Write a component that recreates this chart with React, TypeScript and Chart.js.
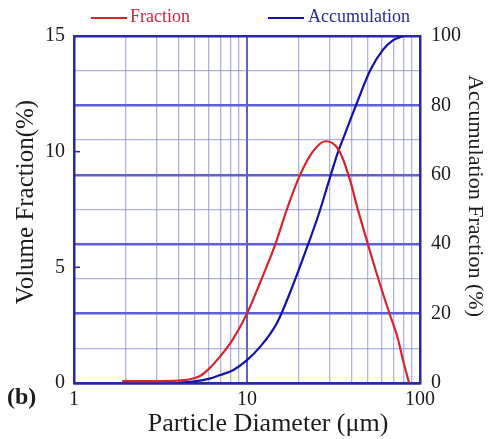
import { useEffect, useRef } from "react";
import { Chart, registerables } from "chart.js";

Chart.register(...registerables);

// Particle size distribution: volume fraction per size and cumulative fraction
const fractionDiameter = [1.9, 3.0, 4.0, 4.6, 5.35, 6.0, 7.0, 8.3, 10.0, 12.0, 14.5, 17.0, 20.0, 24.0, 28.5, 33.0, 36.0, 40.0, 43.0, 50.0, 58.0, 67.0, 74.0, 80.0, 86.5];
const fractionPercent = [0.08, 0.08, 0.1, 0.15, 0.3, 0.6, 1.15, 1.9, 3.0, 4.4, 5.95, 7.5, 8.9, 10.0, 10.45, 10.2, 9.65, 8.6, 7.7, 6.0, 4.4, 2.95, 2.0, 0.95, 0.0];

const accumDiameter = [4.0, 5.0, 6.0, 7.0, 8.3, 10.0, 11.9, 14.9, 18.7, 22.5, 26.0, 29.8, 33.6, 36.0, 40.0, 45.0, 51.4, 61.0, 70.0, 80.0];
const accumPercent = [0, 0.5, 1.2, 2.3, 3.7, 6.6, 10.4, 17.3, 29.0, 39.8, 48.7, 58.3, 66.6, 70.5, 76.5, 83.0, 90.0, 96.0, 98.8, 100];

const diameterTicks = [1, 2, 3, 4, 5, 6, 7, 8, 9, 10, 20, 30, 40, 50, 60, 70, 80, 90, 100];
const diameterLabels = [1, 10, 100];
const fractionTicks = [0, 5, 10, 15];
const accumTicks = [0, 10, 20, 30, 40, 50, 60, 70, 80, 90, 100];
const accumLabels = [0, 20, 40, 60, 80, 100];

const SERIF = "'Liberation Serif', 'Times New Roman', serif";
const RED = "rgb(212, 36, 44)";
const BLUE = "rgb(18, 18, 170)";
const FRAME = "rgb(40, 40, 170)";
const GRID_MAJOR = "rgb(95, 95, 212)";
const GRID_MINOR = "rgba(125, 125, 215, 0.6)";
const TEXT = "#1c1c1c";

const decorations = {
  id: "decorations",
  afterDraw(chart: Chart) {
    const { ctx, chartArea } = chart;
    const yScale = chart.scales.y;
    ctx.save();

    // short inner tick marks on the left axis
    ctx.strokeStyle = FRAME;
    ctx.lineWidth = 1.5;
    for (const v of [5, 10]) {
      const py = yScale.getPixelForValue(v);
      ctx.beginPath();
      ctx.moveTo(chartArea.left, py);
      ctx.lineTo(chartArea.left + 6, py);
      ctx.stroke();
    }

    // legend
    ctx.lineWidth = 2;
    ctx.strokeStyle = RED;
    ctx.beginPath();
    ctx.moveTo(91, 18);
    ctx.lineTo(127, 18);
    ctx.stroke();
    ctx.strokeStyle = BLUE;
    ctx.beginPath();
    ctx.moveTo(268, 18);
    ctx.lineTo(304, 18);
    ctx.stroke();
    ctx.font = `18px ${SERIF}`;
    ctx.textBaseline = "middle";
    ctx.textAlign = "left";
    ctx.fillStyle = "rgb(200, 40, 60)";
    ctx.fillText("Fraction", 130, 17);
    ctx.fillStyle = "rgb(40, 40, 150)";
    ctx.fillText("Accumulation", 308, 17);

    // axis titles
    ctx.fillStyle = TEXT;
    ctx.textAlign = "center";
    ctx.font = `26px ${SERIF}`;
    ctx.fillText("Particle Diameter (\u03bcm)", 268, 424);

    ctx.save();
    ctx.translate(26, 202);
    ctx.rotate(-Math.PI / 2);
    ctx.font = `25px ${SERIF}`;
    ctx.fillText("Volume Fraction(%)", 0, 0);
    ctx.restore();

    ctx.save();
    ctx.translate(475, 196);
    ctx.rotate(Math.PI / 2);
    ctx.font = `22px ${SERIF}`;
    ctx.fillText("Accumulation Fraction (%)", 0, 0);
    ctx.restore();

    // panel label
    ctx.textAlign = "left";
    ctx.font = `bold 24px ${SERIF}`;
    ctx.fillText("(b)", 7, 398);

    ctx.restore();
  },
};

export default function App() {
  const canvasRef = useRef<HTMLCanvasElement | null>(null);

  useEffect(() => {
    const canvas = canvasRef.current;
    if (!canvas) return;

    const chart = new Chart(canvas, {
      type: "line",
      data: {
        datasets: [
          {
            label: "Fraction",
            data: fractionDiameter.map((d, i) => ({ x: d, y: fractionPercent[i] })),
            borderColor: RED,
            borderWidth: 2.2,
            pointRadius: 0,
            cubicInterpolationMode: "monotone",
            yAxisID: "y",
          },
          {
            label: "Accumulation",
            data: accumDiameter.map((d, i) => ({ x: d, y: accumPercent[i] })),
            borderColor: BLUE,
            borderWidth: 2.2,
            pointRadius: 0,
            cubicInterpolationMode: "monotone",
            yAxisID: "y2",
          },
        ],
      },
      options: {
        animation: false,
        responsive: false,
        devicePixelRatio: 1,
        layout: { padding: { top: 36, left: 0, right: 0, bottom: 0 } },
        plugins: {
          legend: { display: false },
          tooltip: { enabled: false },
        },
        scales: {
          x: {
            type: "logarithmic",
            min: 1,
            max: 100,
            afterBuildTicks: (scale: any) => {
              scale.ticks = diameterTicks.map((v) => ({ value: v }));
            },
            afterFit: (scale: any) => {
              scale.height = 56;
            },
            ticks: {
              autoSkip: false,
              maxRotation: 0,
              padding: 5,
              color: TEXT,
              font: { family: SERIF, size: 20 },
              callback: (value: any) => (diameterLabels.includes(Number(value)) ? String(value) : ""),
            },
            grid: {
              drawTicks: false,
              color: (ctx: any) => {
                const v = ctx.tick?.value;
                if (v === 1 || v === 100) return FRAME;
                return v === 10 ? GRID_MAJOR : GRID_MINOR;
              },
              lineWidth: (ctx: any) => (ctx.tick?.value === 10 ? 2 : 1.3),
            },
            border: { color: FRAME, width: 2.5 },
          },
          y: {
            type: "linear",
            position: "left",
            min: 0,
            max: 15,
            afterBuildTicks: (scale: any) => {
              scale.ticks = fractionTicks.map((v) => ({ value: v }));
            },
            afterFit: (scale: any) => {
              scale.width = 74;
            },
            ticks: {
              padding: 9,
              color: TEXT,
              font: { family: SERIF, size: 20 },
            },
            grid: { display: false, drawTicks: false },
            border: { color: FRAME, width: 2.5 },
          },
          y2: {
            type: "linear",
            position: "right",
            min: 0,
            max: 100,
            afterBuildTicks: (scale: any) => {
              scale.ticks = accumTicks.map((v) => ({ value: v }));
            },
            afterFit: (scale: any) => {
              scale.width = 68;
            },
            ticks: {
              padding: 11,
              color: TEXT,
              font: { family: SERIF, size: 20 },
              callback: (value: any) => (accumLabels.includes(Number(value)) ? String(value) : ""),
            },
            grid: {
              drawTicks: false,
              color: (ctx: any) => {
                const v = ctx.tick?.value;
                if (v === 0 || v === 100) return FRAME;
                return v % 20 === 0 ? GRID_MAJOR : GRID_MINOR;
              },
              lineWidth: (ctx: any) => {
                const v = ctx.tick?.value;
                if (v === 0 || v === 100) return 2.5;
                return v % 20 === 0 ? 2.5 : 1.3;
              },
            },
            border: { color: FRAME, width: 2.5 },
          },
        },
      },
      plugins: [decorations],
    });

    return () => chart.destroy();
  }, []);

  return (
    <div style={{ position: "absolute", left: 0, top: 0, width: 488, height: 439, background: "#fff" }}>
      <canvas ref={canvasRef} width={488} height={439} />
    </div>
  );
}
